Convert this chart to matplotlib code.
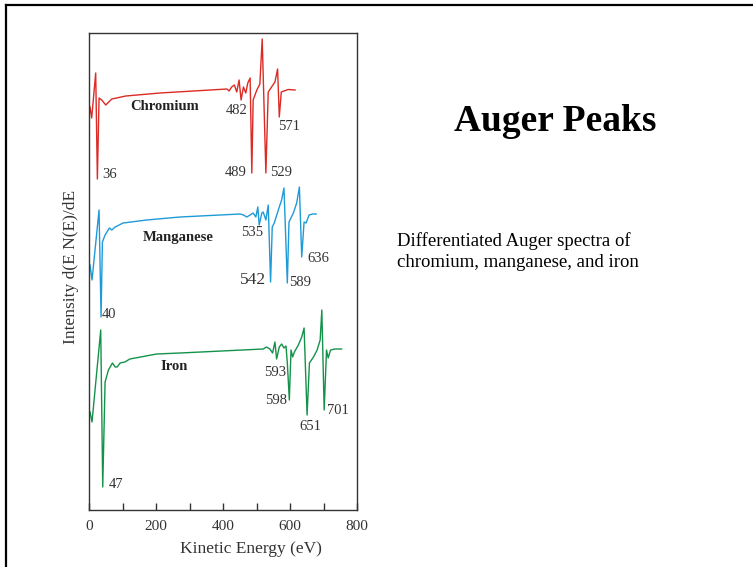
import matplotlib.pyplot as plt
from matplotlib.lines import Line2D

plt.rcParams['font.family'] = ['Liberation Serif', 'DejaVu Serif']

# spectra: energy (eV) and intensity (arbitrary units)
cr_energy = [3, 8, 20, 25, 30, 38, 50, 68, 110, 212, 412, 418, 426, 434, 441, 448, 454,
             461, 468, 474, 481, 486, 490, 501, 510, 517, 528, 535, 555, 563, 568, 574,
             582, 595, 615]
cr_signal = [403, 392, 437, 331, 412, 410, 405, 411, 414, 417, 421, 419, 423, 425, 418,
             430, 410, 423, 417, 427, 432, 337, 410, 420, 426, 471, 337, 418, 428, 441,
             393, 418, 419, 420.5, 420]

mn_energy = [3, 9, 30, 36, 40, 48, 61, 68, 78, 102, 172, 272, 451, 461, 471, 481, 490,
             498, 504, 508, 516, 520, 528, 535, 542, 547, 553, 568, 575, 582, 592, 597,
             610, 620, 628, 635, 642, 648, 657, 667, 678]
mn_signal = [245, 230, 300, 193, 268, 275, 282, 280, 283, 287, 290, 293, 296, 295, 293,
             295, 297, 293, 303, 285, 297, 298, 290, 305, 228, 283, 287, 303, 310, 322,
             227, 288, 297, 307, 323, 253, 288, 287, 295, 296, 296]

fe_energy = [3, 9, 35, 41, 48, 58, 70, 78, 84, 93, 107, 122, 202, 272, 520, 530, 540,
             548, 555, 560, 568, 575, 582, 588, 592, 598, 603, 608, 613, 625, 635, 642,
             651, 658, 670, 681, 690, 695, 702, 709, 714, 721, 734, 754]
fe_signal = [98, 88, 180, 23, 128, 140, 147, 143, 143, 147, 148, 151, 156, 157, 161, 163,
             161, 157, 168, 151, 163, 166, 162, 164, 147, 110, 160, 153, 158, 165, 173,
             182, 95, 147, 153, 160, 170, 200, 100, 160, 152, 160, 161, 161]

x_ticks = [0, 100, 200, 300, 400, 500, 600, 700, 800]
x_tick_labels = ['0', '', '200', '', '400', '', '600', '', '800']

fig = plt.figure(figsize=(7.53, 5.67), dpi=100)
ax = fig.add_axes([89 / 753, 1 - 510 / 567, 268 / 753, 477 / 567])

ax.plot(cr_energy, cr_signal, color='#dc2a25', lw=1.0)
ax.plot(mn_energy, mn_signal, color='#1f9ad8', lw=1.0)
ax.plot(fe_energy, fe_signal, color='#14924a', lw=1.0)

ax.set_xlim(0, 800)
ax.set_ylim(0, 477)
ax.set_xticks(x_ticks)
ax.set_xticklabels(x_tick_labels, fontsize=11, color='#333333')
ax.set_yticks([])
ax.tick_params(axis='x', direction='in', length=5, width=1, color='#333333', pad=7)
for s in ax.spines.values():
    s.set_color('#333333')
    s.set_linewidth(1.0)

ax.set_xlabel('Kinetic Energy (eV)', fontsize=12.5, color='#333333')
ax.xaxis.set_label_coords((251 - 89) / 268, -0.064)
ax.set_ylabel('Intensity d(E N(E)/dE', fontsize=12.5, color='#333333')
ax.yaxis.set_label_coords(-0.038, 0.51)

# element names
bold = dict(fontsize=10.5, fontweight='bold', color='#222222', ha='center', va='center')
ax.text(225, 404, 'Chromium', **bold)
ax.text(265, 273, 'Manganese', **bold)
ax.text(254, 143, 'Iron', **bold)

# peak energies
num = dict(fontsize=10.5, color='#333333', ha='left', va='center')
peak_labels = [
    (408, 399, '482'), (563, 383, '571'), (41, 335, '36'), (406, 337, '489'),
    (540, 337, '529'),
    (453, 277, '535'), (598, 228, '589'), (652, 252, '636'), (38, 196, '40'),
    (523, 138, '593'), (525, 109, '598'), (628, 83, '651'), (710, 100, '701'),
    (58, 26, '47'),
]
for x, y, t in peak_labels:
    ax.text(x, y, t, **num)
ax.text(451, 230, '542', fontsize=12.5, color='#333333', ha='left', va='center')

# slide text
fig.text(555 / 753, 1 - 121.7 / 567, 'Auger Peaks', fontsize=27, fontweight='bold',
         ha='center', va='center')
fig.text(396.7 / 753, 1 - 240.7 / 567, 'Differentiated Auger spectra of',
         fontsize=13.5, ha='left', va='center')
fig.text(396.7 / 753, 1 - 262.7 / 567, 'chromium, manganese, and iron',
         fontsize=13.5, ha='left', va='center')

# slide frame (top and left edges)
fig.add_artist(Line2D([6 / 753, 1], [1 - 5 / 567, 1 - 5 / 567], color='black', lw=1.6,
                      transform=fig.transFigure))
fig.add_artist(Line2D([6 / 753, 6 / 753], [0, 1 - 5 / 567], color='black', lw=1.6,
                      transform=fig.transFigure))

fig.savefig('out.png', dpi=100)
